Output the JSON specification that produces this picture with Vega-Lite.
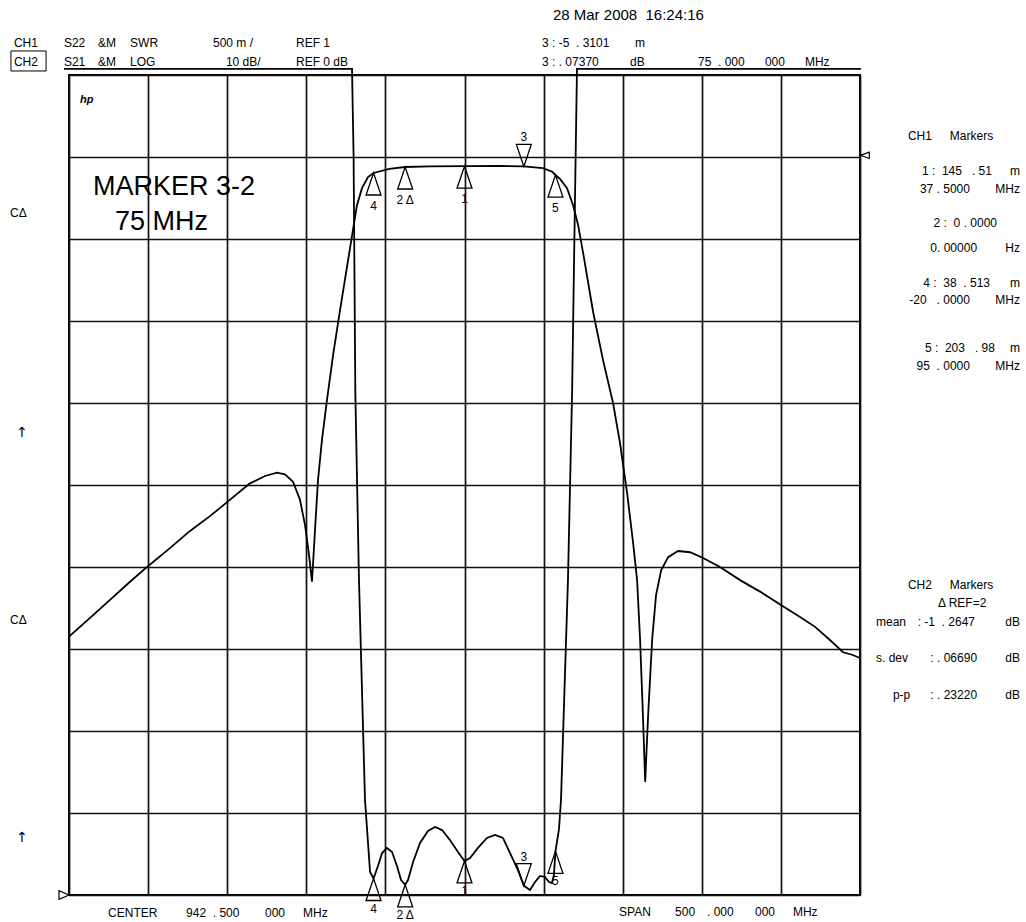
{
  "$schema": "https://vega.github.io/schema/vega-lite/v6.json",
  "width": 791,
  "height": 820,
  "autosize": {"type": "none"},
  "padding": {"left": 69, "top": 75, "right": 166, "bottom": 27},
  "background": "white",
  "data": {"values": [{}]},
  "datasets": {
    "s21": [
      {"f": 692.5, "db": -58.5}, {"f": 705.8, "db": -56.2}, {"f": 718.4, "db": -54.0}, {"f": 731.1, "db": -51.8},
      {"f": 742.4, "db": -49.9}, {"f": 756.3, "db": -47.7}, {"f": 769.0, "db": -45.6}, {"f": 781.6, "db": -43.8},
      {"f": 793.0, "db": -42.0}, {"f": 806.9, "db": -39.8}, {"f": 816.4, "db": -38.9}, {"f": 824.0, "db": -38.5},
      {"f": 829.0, "db": -38.7}, {"f": 834.1, "db": -39.6}, {"f": 838.5, "db": -41.8}, {"f": 841.7, "db": -44.9},
      {"f": 844.2, "db": -48.5}, {"f": 846.1, "db": -51.8}, {"f": 848.0, "db": -45.5}, {"f": 849.9, "db": -39.4},
      {"f": 852.4, "db": -34.5}, {"f": 855.6, "db": -29.6}, {"f": 859.4, "db": -24.2}, {"f": 863.8, "db": -18.7},
      {"f": 868.9, "db": -12.6}, {"f": 872.0, "db": -8.9}, {"f": 874.5, "db": -5.9}, {"f": 877.7, "db": -3.8},
      {"f": 881.5, "db": -2.45}, {"f": 885, "db": -1.95}, {"f": 895, "db": -1.45}, {"f": 905, "db": -1.22},
      {"f": 920, "db": -1.15}, {"f": 942.5, "db": -1.12}, {"f": 965, "db": -1.1}, {"f": 980, "db": -1.15},
      {"f": 992, "db": -1.35}, {"f": 998, "db": -1.8}, {"f": 1000, "db": -2.2}, {"f": 1003, "db": -2.7},
      {"f": 1007.3, "db": -3.8}, {"f": 1011.1, "db": -5.85}, {"f": 1014.3, "db": -8.3}, {"f": 1017.4, "db": -11.6},
      {"f": 1023.8, "db": -18.9}, {"f": 1030.1, "db": -24.8}, {"f": 1036.4, "db": -30.0}, {"f": 1040.8, "db": -34.9},
      {"f": 1045.3, "db": -41.0}, {"f": 1049.1, "db": -47.1}, {"f": 1051.6, "db": -51.6}, {"f": 1053.5, "db": -58.9},
      {"f": 1055.4, "db": -68.7}, {"f": 1056.7, "db": -76.2}, {"f": 1058.6, "db": -68.0}, {"f": 1061.1, "db": -58.9},
      {"f": 1063.6, "db": -53.4}, {"f": 1066.8, "db": -50.4}, {"f": 1071.2, "db": -48.8}, {"f": 1077.5, "db": -48.05},
      {"f": 1085.1, "db": -48.2}, {"f": 1093.3, "db": -48.9}, {"f": 1104.0, "db": -50.0}, {"f": 1116.7, "db": -51.6},
      {"f": 1129.3, "db": -53.0}, {"f": 1143.8, "db": -54.8}, {"f": 1154.6, "db": -56.1}, {"f": 1164.1, "db": -57.3},
      {"f": 1173.5, "db": -58.9}, {"f": 1181.8, "db": -60.4}, {"f": 1187.5, "db": -60.7}, {"f": 1192.5, "db": -61.1}
    ],
    "swr": [
      {"f": 689.3, "swr": 6.037}, {"f": 871.4, "swr": 6.037}, {"f": 872.4, "swr": 5.5}, {"f": 873.5, "swr": 4.06},
      {"f": 875.8, "swr": 2.92}, {"f": 879.6, "swr": 1.58}, {"f": 882.8, "swr": 1.14}, {"f": 885, "swr": 1.1005},
      {"f": 887.8, "swr": 1.177}, {"f": 890.4, "swr": 1.256}, {"f": 893.5, "swr": 1.287}, {"f": 896.7, "swr": 1.262},
      {"f": 899.8, "swr": 1.177}, {"f": 902.4, "swr": 1.091}, {"f": 905, "swr": 1.062}, {"f": 906.8, "swr": 1.091},
      {"f": 910.0, "swr": 1.201}, {"f": 914.4, "swr": 1.317}, {"f": 919.4, "swr": 1.39}, {"f": 923.9, "swr": 1.415},
      {"f": 928.3, "swr": 1.396}, {"f": 933.3, "swr": 1.335}, {"f": 938.4, "swr": 1.262}, {"f": 942.5, "swr": 1.2075},
      {"f": 946.0, "swr": 1.226}, {"f": 951.0, "swr": 1.287}, {"f": 956.7, "swr": 1.348}, {"f": 961.8, "swr": 1.366},
      {"f": 966.8, "swr": 1.348}, {"f": 971.3, "swr": 1.256}, {"f": 976.3, "swr": 1.152}, {"f": 980, "swr": 1.057},
      {"f": 983.9, "swr": 1.03}, {"f": 987.1, "swr": 1.079}, {"f": 990.2, "swr": 1.116}, {"f": 993.4, "swr": 1.11},
      {"f": 995.9, "swr": 1.079}, {"f": 997.8, "swr": 1.073}, {"f": 999.0, "swr": 1.12}, {"f": 1000, "swr": 1.266},
      {"f": 1002.2, "swr": 1.4}, {"f": 1003.5, "swr": 1.58}, {"f": 1007.9, "swr": 2.92}, {"f": 1010.5, "swr": 4.06},
      {"f": 1012.4, "swr": 5.28}, {"f": 1013.6, "swr": 6.037}, {"f": 1193.1, "swr": 6.037}
    ],
    "s21m": [
      {"f": 885, "db": -1.95, "m": "4", "dir": "up"},
      {"f": 905, "db": -1.22, "m": "2 Δ", "dir": "up"},
      {"f": 942.5, "db": -1.12, "m": "1", "dir": "up"},
      {"f": 980, "db": -1.15, "m": "3", "dir": "down"},
      {"f": 1000, "db": -2.2, "m": "5", "dir": "up"}
    ],
    "swrm": [
      {"f": 885, "swr": 1.1005, "m": "4", "dir": "up"},
      {"f": 905, "swr": 1.062, "m": "2 Δ", "dir": "up"},
      {"f": 942.5, "swr": 1.2075, "m": "1", "dir": "up"},
      {"f": 980, "swr": 1.0567, "m": "3", "dir": "down"},
      {"f": 1000, "swr": 1.266, "m": "5", "dir": "up"}
    ]
  },
  "config": {
    "view": {"stroke": "black", "strokeWidth": 2},
    "axis": {"labels": false, "ticks": false, "domain": false, "grid": true, "gridColor": "#111111", "gridWidth": 1.7, "gridOpacity": 1, "titleOpacity": 0},
    "text": {"font": "Liberation Sans, DejaVu Sans", "fontSize": 12, "baseline": "middle", "align": "left", "color": "black", "fill": "black"}
  },
  "layer": [
    {
      "layer": [
        {
          "data": {"name": "s21"},
          "mark": {"type": "line", "color": "black", "strokeWidth": 1.8},
          "encoding": {
            "x": {"field": "f", "type": "quantitative", "scale": {"domain": [692.5, 1192.5], "nice": false, "zero": false}, "axis": {"title": null, "values": [692.5, 742.5, 792.5, 842.5, 892.5, 942.5, 992.5, 1042.5, 1092.5, 1142.5, 1192.5]}},
            "y": {"field": "db", "type": "quantitative", "scale": {"domain": [-90, 10], "nice": false, "zero": false}, "axis": {"title": null, "values": [-90, -80, -70, -60, -50, -40, -30, -20, -10, 0, 10]}}
          }
        },
        {
          "data": {"name": "s21m"},
          "mark": {"type": "point", "filled": false, "color": "black", "strokeWidth": 1.3, "opacity": 1, "size": 1936},
          "encoding": {
            "x": {"field": "f", "type": "quantitative"},
            "y": {"field": "db", "type": "quantitative"},
            "shape": {"field": "dir", "type": "nominal", "scale": {"domain": ["up", "down"], "range": ["M0,0L-0.34,1L0.34,1Z", "M0,0L-0.34,-1L0.34,-1Z"]}, "legend": null}
          }
        },
        {
          "data": {"name": "s21m"},
          "transform": [{"filter": {"field": "dir", "equal": "up"}}],
          "mark": {"type": "text", "align": "center", "dy": 33, "color": "black"},
          "encoding": {"x": {"field": "f", "type": "quantitative"}, "y": {"field": "db", "type": "quantitative"}, "text": {"field": "m"}}
        },
        {
          "data": {"name": "s21m"},
          "transform": [{"filter": {"field": "dir", "equal": "down"}}],
          "mark": {"type": "text", "align": "center", "dy": -29, "color": "black"},
          "encoding": {"x": {"field": "f", "type": "quantitative"}, "y": {"field": "db", "type": "quantitative"}, "text": {"field": "m"}}
        },
        {"mark": {"type": "point", "shape": "M0,0L1,-0.35L1,0.35Z", "size": 324, "filled": false, "color": "black", "strokeWidth": 1.2, "opacity": 1}, "encoding": {"x": {"datum": 1192.7}, "y": {"datum": 0.2}}},
        {"mark": {"type": "point", "shape": "M0,0L-1,-0.43L-1,0.43Z", "size": 400, "filled": false, "color": "black", "strokeWidth": 1.2, "opacity": 1}, "encoding": {"x": {"datum": 692.5}, "y": {"datum": -90}}},
        {"mark": {"type": "rect", "fill": null, "fillOpacity": 0, "stroke": "black", "strokeWidth": 1}, "encoding": {"x": {"datum": 655.8}, "x2": {"datum": 678.0}, "y": {"datum": 12.93}, "y2": {"datum": 10.49}}},

        {"mark": {"type": "text", "text": "CH1"}, "encoding": {"x": {"datum": 657.7}, "y": {"datum": 13.9}}},
        {"mark": {"type": "text", "text": "S22"}, "encoding": {"x": {"datum": 689.3}, "y": {"datum": 13.9}}},
        {"mark": {"type": "text", "text": "&M"}, "encoding": {"x": {"datum": 710.8}, "y": {"datum": 13.9}}},
        {"mark": {"type": "text", "text": "SWR"}, "encoding": {"x": {"datum": 731.1}, "y": {"datum": 13.9}}},
        {"mark": {"type": "text", "text": "500 m /"}, "encoding": {"x": {"datum": 783.5}, "y": {"datum": 13.9}}},
        {"mark": {"type": "text", "text": "REF 1"}, "encoding": {"x": {"datum": 836.0}, "y": {"datum": 13.9}}},
        {"mark": {"type": "text", "text": "3 : -5\u00a0\u00a0. 3101"}, "encoding": {"x": {"datum": 991.5}, "y": {"datum": 13.9}}},
        {"mark": {"type": "text", "text": "m"}, "encoding": {"x": {"datum": 1050.3}, "y": {"datum": 13.9}}},

        {"mark": {"type": "text", "text": "CH2"}, "encoding": {"x": {"datum": 657.7}, "y": {"datum": 11.59}}},
        {"mark": {"type": "text", "text": "S21"}, "encoding": {"x": {"datum": 689.3}, "y": {"datum": 11.59}}},
        {"mark": {"type": "text", "text": "&M"}, "encoding": {"x": {"datum": 710.8}, "y": {"datum": 11.59}}},
        {"mark": {"type": "text", "text": "LOG"}, "encoding": {"x": {"datum": 731.1}, "y": {"datum": 11.59}}},
        {"mark": {"type": "text", "text": "10 dB/"}, "encoding": {"x": {"datum": 791.7}, "y": {"datum": 11.59}}},
        {"mark": {"type": "text", "text": "REF 0 dB"}, "encoding": {"x": {"datum": 836.0}, "y": {"datum": 11.59}}},
        {"mark": {"type": "text", "text": "3 : . 07370"}, "encoding": {"x": {"datum": 991.5}, "y": {"datum": 11.59}}},
        {"mark": {"type": "text", "text": "dB"}, "encoding": {"x": {"datum": 1047.1}, "y": {"datum": 11.59}}},
        {"mark": {"type": "text", "text": "75\u00a0\u00a0. 000"}, "encoding": {"x": {"datum": 1090.1}, "y": {"datum": 11.59}}},
        {"mark": {"type": "text", "text": "000"}, "encoding": {"x": {"datum": 1132.4}, "y": {"datum": 11.59}}},
        {"mark": {"type": "text", "text": "MHz"}, "encoding": {"x": {"datum": 1157.7}, "y": {"datum": 11.59}}},

        {"mark": {"type": "text", "text": "28 Mar 2008\u00a0\u00a016:24:16", "fontSize": 15}, "encoding": {"x": {"datum": 998.4}, "y": {"datum": 17.32}}},
        {"mark": {"type": "text", "text": "hp", "fontStyle": "italic", "fontWeight": "bold", "fontSize": 11}, "encoding": {"x": {"datum": 699.5}, "y": {"datum": 6.95}}},

        {"mark": {"type": "text", "text": "CΔ"}, "encoding": {"x": {"datum": 655.2}, "y": {"datum": -6.83}}},
        {"mark": {"type": "text", "text": "CΔ"}, "encoding": {"x": {"datum": 655.2}, "y": {"datum": -56.46}}},
        {"mark": {"type": "text", "text": "↑", "align": "center", "fontSize": 14, "font": "DejaVu Sans"}, "encoding": {"x": {"datum": 662.8}, "y": {"datum": -33.66}}},
        {"mark": {"type": "text", "text": "↑", "align": "center", "fontSize": 14, "font": "DejaVu Sans"}, "encoding": {"x": {"datum": 662.8}, "y": {"datum": -83.05}}},

        {"mark": {"type": "text", "text": "MARKER 3-2", "fontSize": 27}, "encoding": {"x": {"datum": 707.7}, "y": {"datum": -3.66}}},
        {"mark": {"type": "text", "text": "75 MHz", "fontSize": 27}, "encoding": {"x": {"datum": 721.6}, "y": {"datum": -7.93}}},

        {"mark": {"type": "text", "text": "CH1"}, "encoding": {"x": {"datum": 1222.8}, "y": {"datum": 2.56}}},
        {"mark": {"type": "text", "text": "Markers"}, "encoding": {"x": {"datum": 1249.3}, "y": {"datum": 2.56}}},
        {"mark": {"type": "text", "text": "1 :\u00a0\u00a0145\u00a0\u00a0\u00a0. 51", "align": "right"}, "encoding": {"x": {"datum": 1275.9}, "y": {"datum": -1.71}}},
        {"mark": {"type": "text", "text": "m", "align": "right"}, "encoding": {"x": {"datum": 1293.6}, "y": {"datum": -1.71}}},
        {"mark": {"type": "text", "text": "37 . 5000", "align": "right"}, "encoding": {"x": {"datum": 1262.0}, "y": {"datum": -3.9}}},
        {"mark": {"type": "text", "text": "MHz", "align": "right"}, "encoding": {"x": {"datum": 1293.6}, "y": {"datum": -3.9}}},
        {"mark": {"type": "text", "text": "2 :\u00a0\u00a00 . 0000", "align": "right"}, "encoding": {"x": {"datum": 1279.1}, "y": {"datum": -8.05}}},
        {"mark": {"type": "text", "text": "0. 00000", "align": "right"}, "encoding": {"x": {"datum": 1266.5}, "y": {"datum": -11.1}}},
        {"mark": {"type": "text", "text": "Hz", "align": "right"}, "encoding": {"x": {"datum": 1293.6}, "y": {"datum": -11.1}}},
        {"mark": {"type": "text", "text": "4 :\u00a0\u00a038\u00a0\u00a0. 513", "align": "right"}, "encoding": {"x": {"datum": 1274.7}, "y": {"datum": -15.37}}},
        {"mark": {"type": "text", "text": "m", "align": "right"}, "encoding": {"x": {"datum": 1293.6}, "y": {"datum": -15.37}}},
        {"mark": {"type": "text", "text": "-20\u00a0\u00a0\u00a0. 0000", "align": "right"}, "encoding": {"x": {"datum": 1262.0}, "y": {"datum": -17.44}}},
        {"mark": {"type": "text", "text": "MHz", "align": "right"}, "encoding": {"x": {"datum": 1293.6}, "y": {"datum": -17.44}}},
        {"mark": {"type": "text", "text": "5 :\u00a0\u00a0203\u00a0\u00a0\u00a0. 98", "align": "right"}, "encoding": {"x": {"datum": 1277.8}, "y": {"datum": -23.29}}},
        {"mark": {"type": "text", "text": "m", "align": "right"}, "encoding": {"x": {"datum": 1293.6}, "y": {"datum": -23.29}}},
        {"mark": {"type": "text", "text": "95\u00a0\u00a0. 0000", "align": "right"}, "encoding": {"x": {"datum": 1262.0}, "y": {"datum": -25.49}}},
        {"mark": {"type": "text", "text": "MHz", "align": "right"}, "encoding": {"x": {"datum": 1293.6}, "y": {"datum": -25.49}}},

        {"mark": {"type": "text", "text": "CH2"}, "encoding": {"x": {"datum": 1222.8}, "y": {"datum": -52.2}}},
        {"mark": {"type": "text", "text": "Markers"}, "encoding": {"x": {"datum": 1249.3}, "y": {"datum": -52.2}}},
        {"mark": {"type": "text", "text": "Δ REF=2"}, "encoding": {"x": {"datum": 1241.8}, "y": {"datum": -54.39}}},
        {"mark": {"type": "text", "text": "mean"}, "encoding": {"x": {"datum": 1202.6}, "y": {"datum": -56.71}}},
        {"mark": {"type": "text", "text": ": -1\u00a0\u00a0. 2647", "align": "right"}, "encoding": {"x": {"datum": 1265.2}, "y": {"datum": -56.71}}},
        {"mark": {"type": "text", "text": "dB", "align": "right"}, "encoding": {"x": {"datum": 1293.6}, "y": {"datum": -56.71}}},
        {"mark": {"type": "text", "text": "s. dev"}, "encoding": {"x": {"datum": 1202.6}, "y": {"datum": -61.1}}},
        {"mark": {"type": "text", "text": ": . 06690", "align": "right"}, "encoding": {"x": {"datum": 1266.5}, "y": {"datum": -61.1}}},
        {"mark": {"type": "text", "text": "dB", "align": "right"}, "encoding": {"x": {"datum": 1293.6}, "y": {"datum": -61.1}}},
        {"mark": {"type": "text", "text": "p-p"}, "encoding": {"x": {"datum": 1213.3}, "y": {"datum": -65.61}}},
        {"mark": {"type": "text", "text": ": . 23220", "align": "right"}, "encoding": {"x": {"datum": 1266.5}, "y": {"datum": -65.61}}},
        {"mark": {"type": "text", "text": "dB", "align": "right"}, "encoding": {"x": {"datum": 1293.6}, "y": {"datum": -65.61}}},

        {"mark": {"type": "text", "text": "CENTER"}, "encoding": {"x": {"datum": 717.2}, "y": {"datum": -92.2}}},
        {"mark": {"type": "text", "text": "942\u00a0\u00a0. 500"}, "encoding": {"x": {"datum": 766.5}, "y": {"datum": -92.2}}},
        {"mark": {"type": "text", "text": "000"}, "encoding": {"x": {"datum": 816.4}, "y": {"datum": -92.2}}},
        {"mark": {"type": "text", "text": "MHz"}, "encoding": {"x": {"datum": 840.4}, "y": {"datum": -92.2}}},
        {"mark": {"type": "text", "text": "SPAN"}, "encoding": {"x": {"datum": 1040.2}, "y": {"datum": -92.07}}},
        {"mark": {"type": "text", "text": "500"}, "encoding": {"x": {"datum": 1075.6}, "y": {"datum": -92.07}}},
        {"mark": {"type": "text", "text": ". 000"}, "encoding": {"x": {"datum": 1095.8}, "y": {"datum": -92.07}}},
        {"mark": {"type": "text", "text": "000"}, "encoding": {"x": {"datum": 1126.1}, "y": {"datum": -92.07}}},
        {"mark": {"type": "text", "text": "MHz"}, "encoding": {"x": {"datum": 1150.1}, "y": {"datum": -92.07}}}
      ]
    },
    {
      "layer": [
        {
          "data": {"name": "swr"},
          "mark": {"type": "line", "color": "black", "strokeWidth": 1.8},
          "encoding": {
            "x": {"field": "f", "type": "quantitative"},
            "y": {"field": "swr", "type": "quantitative", "scale": {"domain": [1, 6], "nice": false, "zero": false}, "axis": null}
          }
        },
        {
          "data": {"name": "swrm"},
          "mark": {"type": "point", "filled": false, "color": "black", "strokeWidth": 1.3, "opacity": 1, "size": 1936},
          "encoding": {
            "x": {"field": "f", "type": "quantitative"},
            "y": {"field": "swr", "type": "quantitative", "axis": null},
            "shape": {"field": "dir", "type": "nominal", "scale": {"domain": ["up", "down"], "range": ["M0,0L-0.34,1L0.34,1Z", "M0,0L-0.34,-1L0.34,-1Z"]}, "legend": null}
          }
        },
        {
          "data": {"name": "swrm"},
          "transform": [{"filter": {"field": "dir", "equal": "up"}}],
          "mark": {"type": "text", "align": "center", "dy": 30, "color": "black"},
          "encoding": {"x": {"field": "f", "type": "quantitative"}, "y": {"field": "swr", "type": "quantitative", "axis": null}, "text": {"field": "m"}}
        },
        {
          "data": {"name": "swrm"},
          "transform": [{"filter": {"field": "dir", "equal": "down"}}],
          "mark": {"type": "text", "align": "center", "dy": -29, "color": "black"},
          "encoding": {"x": {"field": "f", "type": "quantitative"}, "y": {"field": "swr", "type": "quantitative", "axis": null}, "text": {"field": "m"}}
        }
      ]
    }
  ],
  "resolve": {"scale": {"y": "independent"}}
}
